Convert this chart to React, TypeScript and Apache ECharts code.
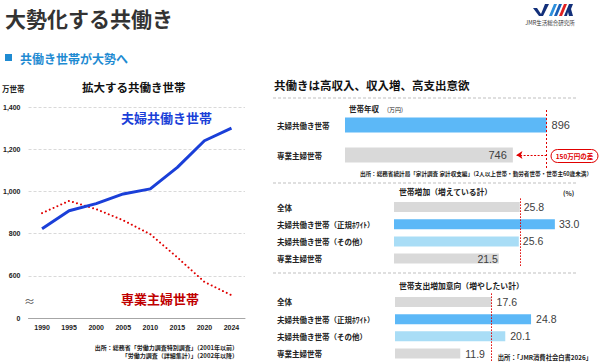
import React, { useEffect, useRef } from "react";
import * as echarts from "echarts";

const FONT = "'Noto Sans CJK JP', 'Noto Sans', sans-serif";

// Left line chart
const years = ["1990", "1995", "2000", "2005", "2010", "2015", "2020", "2024"];
const dualIncome = [823, 908, 942, 988, 1012, 1114, 1240, 1300];
const housewife = [897, 955, 916, 863, 797, 687, 571, 508];

// Panel 1: household income
const incomeCats = ["夫婦共働き世帯", "専業主婦世帯"];
const incomeValues = [896, 746];

// Panel 2 & 3
const groupCats = ["全体", "夫婦共働き世帯（正規ﾎﾜｲﾄ）", "夫婦共働き世帯（その他）", "専業主婦世帯"];
const householdIncrease = [25.8, 33.0, 25.6, 21.5];
const spendingIntent = [17.6, 24.8, 20.1, 11.9];

const GREY = "#d9d9d9";
const BLUE = "#5cb8f7";
const LIGHT = "#a9ddf6";
const groupColors = [GREY, BLUE, LIGHT, GREY];
const incomeColors = [BLUE, GREY];

function txt(text: string, x: number, y: number, size: number, opts: any = {}) {
  return {
    type: "text",
    x,
    y,
    silent: true,
    style: {
      text,
      fill: opts.fill || "#222",
      font: `${opts.weight || "bold"} ${size}px ${FONT}`,
      align: opts.align || "left",
      verticalAlign: "middle",
    },
  };
}

function dashLine(x1: number, y1: number, x2: number, y2: number) {
  return {
    type: "line",
    silent: true,
    shape: { x1, y1, x2, y2 },
    style: { stroke: "#bfbfbf", lineWidth: 1, lineDash: [3, 2] },
  };
}

export default function App() {
  const ref = useRef<HTMLDivElement>(null);
  useEffect(() => {
    document.body.style.margin = "0";
    const chart = echarts.init(ref.current!, null, { renderer: "svg" });

    const catAxisLabel = (margin: number) => ({
      align: "left",
      margin,
      fontSize: 7.5,
      fontWeight: "bold",
      color: "#222",
      fontFamily: FONT,
    });

    const valueLabel = (size: number, fmt: (v: number) => string) => ({
      show: true,
      position: "right",
      distance: 5,
      fontSize: size,
      color: "#404040",
      fontFamily: "Liberation Sans, Arial, sans-serif",
      formatter: (p: any) => fmt(p.value),
    });

    const option: any = {
      animation: false,
      backgroundColor: "#fff",
      grid: [
        { left: 27, right: 355, top: 107, bottom: 45 },
        { left: 345, right: 30, top: 110, height: 60 },
        { left: 394, right: 11, top: 198.4, height: 68.8 },
        { left: 395, right: 13, top: 293.4, height: 68.7 },
      ],
      xAxis: [
        {
          gridIndex: 0,
          type: "category",
          data: years,
          boundaryGap: true,
          axisLine: { lineStyle: { color: "#a6a6a6", width: 1 } },
          axisTick: { show: false },
          axisLabel: { fontSize: 7, fontWeight: "bold", color: "#222", margin: 6, fontFamily: "Liberation Sans, Arial, sans-serif" },
        },
        { gridIndex: 1, type: "value", min: 0, max: 1000, show: false },
        { gridIndex: 2, type: "value", min: 0, max: 40, show: false },
        { gridIndex: 3, type: "value", min: 0, max: 35, show: false },
      ],
      yAxis: [
        {
          gridIndex: 0,
          type: "value",
          min: 400,
          max: 1400,
          interval: 200,
          axisLine: { show: false },
          axisTick: { show: false },
          splitLine: { lineStyle: { color: "#d9d9d9", type: [3, 2] } },
          axisLabel: {
            fontSize: 7,
            fontWeight: "bold",
            color: "#222",
            margin: 8,
            fontFamily: "Liberation Sans, Arial, sans-serif",
            formatter: (v: number) => (v === 400 ? "0" : v.toLocaleString("en-US")),
          },
        },
        {
          gridIndex: 1,
          type: "category",
          data: incomeCats,
          inverse: true,
          axisLine: { show: false },
          axisTick: { show: false },
          axisLabel: catAxisLabel(68),
        },
        {
          gridIndex: 2,
          type: "category",
          data: groupCats,
          inverse: true,
          axisLine: { show: false },
          axisTick: { show: false },
          axisLabel: catAxisLabel(117),
        },
        {
          gridIndex: 3,
          type: "category",
          data: groupCats,
          inverse: true,
          axisLine: { show: false },
          axisTick: { show: false },
          axisLabel: catAxisLabel(118),
        },
      ],
      series: [
        {
          type: "line",
          xAxisIndex: 0,
          yAxisIndex: 0,
          data: dualIncome,
          symbol: "none",
          lineStyle: { color: "#1a3fd8", width: 3 },
          z: 3,
        },
        {
          type: "line",
          xAxisIndex: 0,
          yAxisIndex: 0,
          data: housewife,
          symbol: "none",
          lineStyle: { color: "#e00000", width: 2, type: [0.01, 4.2], cap: "round" },
          z: 2,
        },
        {
          type: "bar",
          xAxisIndex: 1,
          yAxisIndex: 1,
          barWidth: 15,
          data: incomeValues.map((v, i) => ({
            value: v,
            itemStyle: { color: incomeColors[i] },
            label:
              i === 1
                ? { position: "insideRight", distance: 6 }
                : { position: "right", distance: 5 },
          })),
          label: valueLabel(11, (v) => String(v)),
          markLine: {
            silent: true,
            symbol: "none",
            label: { show: false },
            data: [
              { xAxis: 896, lineStyle: { color: "#e00000", type: [2, 2], width: 1 } },
              [
                { coord: [896, "専業主婦世帯"], symbol: "none", lineStyle: { color: "#e00000", type: [2, 1.5], width: 1 } },
                { coord: [762, "専業主婦世帯"], symbol: "arrow", symbolSize: [6, 6] },
              ],
            ],
          },
        },
        {
          type: "bar",
          xAxisIndex: 2,
          yAxisIndex: 2,
          barWidth: 10,
          data: householdIncrease.map((v, i) => ({
            value: v,
            itemStyle: { color: groupColors[i] },
            label:
              i === 3
                ? { position: "insideRight", distance: 1 }
                : { position: "right", distance: 4 },
          })),
          label: valueLabel(10.5, (v) => v.toFixed(1)),
          markLine: {
            silent: true,
            symbol: "none",
            label: { show: false },
            lineStyle: { color: "#e00000", type: [1.5, 1.5], width: 1 },
            data: [{ xAxis: 25.8 }],
          },
        },
        {
          type: "bar",
          xAxisIndex: 3,
          yAxisIndex: 3,
          barWidth: 10,
          data: spendingIntent.map((v, i) => ({
            value: v,
            itemStyle: { color: groupColors[i] },
          })),
          label: valueLabel(10.5, (v) => v.toFixed(1)),
          markLine: {
            silent: true,
            symbol: "none",
            label: { show: false },
            lineStyle: { color: "#e00000", type: [1.5, 1.5], width: 1 },
            data: [{ xAxis: 17.6 }],
          },
        },
      ],
      graphic: [
        // header
        txt("大勢化する共働き", 5, 18, 21, { fill: "#333" }),
        { type: "rect", silent: true, shape: { x: 5, y: 54, width: 7, height: 7 }, style: { fill: "#1f8bd2" } },
        txt("共働き世帯が大勢へ", 20, 58, 12, { fill: "#1f8bd2" }),
        // logo
        {
          type: "group",
          silent: true,
          children: [
            { type: "polygon", shape: { points: [[533, 8], [537, 8], [541, 14], [545, 4], [549, 4], [543, 16], [539, 16]] }, style: { fill: "#13307a" } },
            { type: "polygon", shape: { points: [[549, 16], [554, 4], [557, 4], [552, 16]] }, style: { fill: "#2d8fdc" } },
            { type: "polygon", shape: { points: [[554, 16], [559, 4], [562, 4], [557, 16]] }, style: { fill: "#1a5fb8" } },
            { type: "polygon", shape: { points: [[559, 16], [564, 4], [567, 4], [562, 16]] }, style: { fill: "#e02020" } },
            { type: "polygon", shape: { points: [[564, 16], [569, 4], [573, 4], [571, 9], [573, 16], [569, 16], [568, 12], [567, 16]] }, style: { fill: "#13307a" } },
          ],
        },
        txt("JMR生活総合研究所", 550, 23, 5.5, { align: "center", fill: "#333", weight: "normal" }),
        // left chart texts
        txt("万世帯", 2, 88, 7.5),
        txt("拡大する共働き世帯", 82, 87, 11.5, { fill: "#111" }),
        txt("夫婦共働き世帯", 121, 117, 13, { fill: "#1a3fd8" }),
        txt("専業主婦世帯", 121, 298, 13, { fill: "#c00000" }),
        txt("≈", 24, 301, 11, { fill: "#555", weight: "normal" }),
        txt("出所：総務省「労働力調査特別調査」（2001年以前）", 238, 347, 6, { align: "right" }),
        txt("「労働力調査（詳細集計）」（2002年以降）", 238, 355.5, 6, { align: "right" }),
        // right section
        txt("共働きは高収入、収入増、高支出意欲", 274, 85, 11.5, { fill: "#111" }),
        dashLine(273, 98, 578, 98),
        txt("世帯年収", 349, 108, 7.5),
        txt("(万円)", 387, 109, 6, { weight: "normal" }),
        {
          type: "rect",
          silent: true,
          shape: { x: 551, y: 149.5, width: 47, height: 13, r: 6.5 },
          style: { fill: "#fff", stroke: "#e00000", lineWidth: 1 },
        },
        txt("150万円の差", 574.5, 156.3, 6.5, { align: "center", fill: "#e00000" }),
        txt("出所：総務省統計局「家計調査 家計収支編」（2人以上世帯・勤労者世帯・世帯主60歳未満）", 592, 173.5, 5.6, { align: "right" }),
        dashLine(273, 183, 578, 183),
        txt("世帯増加（増えている計）", 399, 191, 7.8),
        txt("(%)", 563, 193, 6.5),
        dashLine(273, 273, 578, 273),
        txt("世帯支出増加意向（増やしたい計）", 399, 285, 7.8),
        txt("出所：「JMR消費社会白書2026」", 592, 357, 6.3, { align: "right" }),
      ],
    };
    chart.setOption(option);
    return () => chart.dispose();
  }, []);
  return (
    <div
      ref={ref}
      style={{ position: "fixed", left: 0, top: 0, width: 600, height: 363, background: "#fff" }}
    />
  );
}
